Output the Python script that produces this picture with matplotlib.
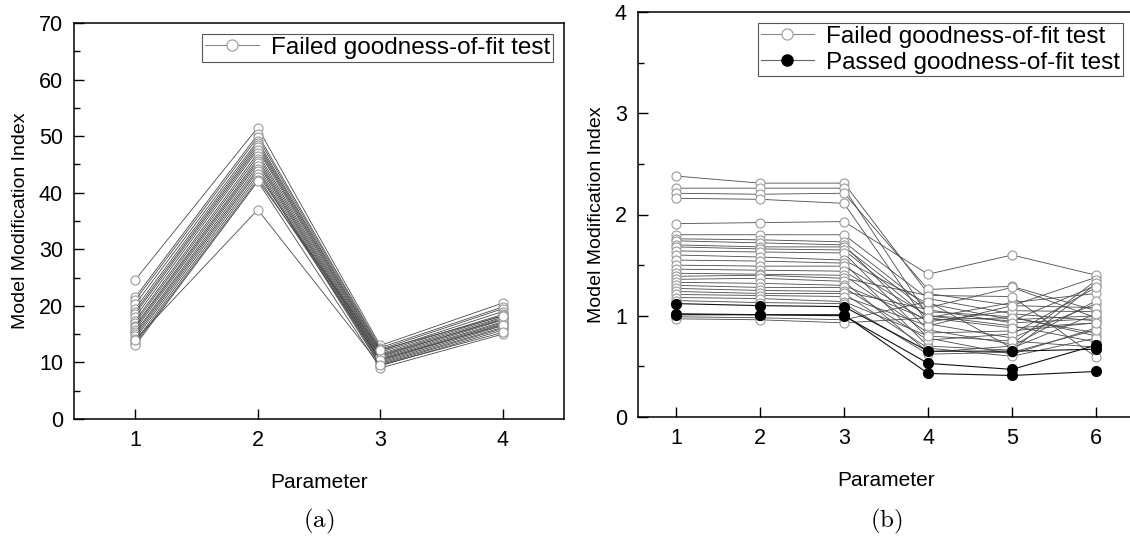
import matplotlib
matplotlib.use('Agg')
import matplotlib.pyplot as plt
from matplotlib.lines import Line2D
from matplotlib.ticker import MultipleLocator

plt.rcParams['font.family'] = ['Liberation Sans', 'DejaVu Sans']
plt.rcParams['mathtext.fontset'] = 'cm'

# (a) failed goodness-of-fit, parameters 1..4
params_a = [1, 2, 3, 4]
a_p1 = [24.6, 21.5, 21.0, 20.3, 19.5, 19.0, 18.6, 18.0, 17.4, 17.0, 16.5,
        16.2, 15.8, 15.3, 15.0, 14.6, 14.2, 13.7, 13.3, 13.0, 14.0]
a_p2 = [51.5, 50.3, 49.8, 49.2, 48.8, 48.4, 48.0, 47.6, 47.0, 46.5, 46.0,
        45.6, 45.2, 44.7, 44.2, 43.8, 43.3, 42.8, 42.3, 42.0, 37.0]
a_p3 = [13.0, 12.6, 12.3, 12.0, 11.8, 11.5, 11.3, 11.0, 10.8, 10.6, 10.4,
        10.2, 10.0, 9.8, 9.6, 9.4, 11.2, 10.5, 12.2, 9.0, 9.5]
a_p4 = [20.5, 19.8, 19.5, 19.0, 18.5, 18.3, 18.0, 17.8, 17.5, 17.2, 17.0,
        16.8, 16.5, 16.2, 16.0, 15.7, 17.6, 16.6, 18.2, 15.0, 15.3]

# (b) parameters 1..6
params_b = [1, 2, 3, 4, 5, 6]
failed_b = [
    [2.38, 2.31, 2.31, 1.22, 1.10, 1.38],
    [2.26, 2.26, 2.26, 1.00, 0.95, 1.30],
    [2.21, 2.20, 2.21, 1.26, 1.29, 1.05],
    [2.16, 2.15, 2.11, 0.92, 0.78, 1.12],
    [1.91, 1.92, 1.93, 1.41, 1.60, 1.40],
    [1.80, 1.80, 1.80, 1.17, 1.02, 0.95],
    [1.76, 1.75, 1.73, 1.08, 1.28, 0.98],
    [1.74, 1.72, 1.70, 0.86, 0.72, 1.35],
    [1.70, 1.68, 1.68, 1.04, 0.99, 0.80],
    [1.68, 1.66, 1.65, 0.98, 1.13, 1.22],
    [1.64, 1.63, 1.62, 0.78, 0.62, 0.88],
    [1.60, 1.58, 1.55, 1.12, 0.96, 1.00],
    [1.55, 1.54, 1.52, 0.70, 0.66, 1.32],
    [1.50, 1.49, 1.49, 1.00, 0.90, 0.74],
    [1.46, 1.45, 1.44, 0.94, 1.05, 1.04],
    [1.42, 1.41, 1.40, 0.83, 0.85, 0.93],
    [1.39, 1.40, 1.37, 1.20, 1.19, 0.59],
    [1.36, 1.37, 1.34, 0.64, 0.70, 1.15],
    [1.33, 1.32, 1.30, 0.96, 0.98, 0.83],
    [1.30, 1.28, 1.28, 0.76, 0.82, 1.28],
    [1.27, 1.25, 1.24, 1.06, 0.93, 0.97],
    [1.24, 1.22, 1.22, 0.68, 0.60, 0.78],
    [1.21, 1.20, 1.19, 0.90, 1.10, 1.08],
    [1.18, 1.17, 1.14, 0.80, 0.75, 0.69],
    [1.15, 1.13, 1.12, 0.62, 0.64, 0.86],
    [0.99, 0.98, 0.96, 1.14, 0.68, 1.02],
    [0.97, 0.96, 0.93, 0.98, 0.88, 0.93],
]
passed_b = [
    [1.12, 1.10, 1.09, 0.65, 0.65, 0.67],
    [1.01, 1.01, 1.00, 0.53, 0.47, 0.71],
    [1.02, 1.01, 1.01, 0.43, 0.41, 0.45],
]

line_c = '#4a4a4a'
edge_c = '#9a9a9a'

fig = plt.figure(figsize=(11.3, 5.39), dpi=100)
ax1 = fig.add_axes([74/1130, 120/539, 490/1130, 396/539])
ax2 = fig.add_axes([638/1130, 122/539, 496/1130, 405/539])

for i in range(len(a_p1)):
    ax1.plot(params_a, [a_p1[i], a_p2[i], a_p3[i], a_p4[i]], color=line_c, lw=0.6,
             marker='o', ms=6.5, mfc='white', mec=edge_c, mew=0.8)

for row in failed_b:
    ax2.plot(params_b, row, color=line_c, lw=0.6,
             marker='o', ms=6.5, mfc='white', mec=edge_c, mew=0.8)
for row in passed_b:
    ax2.plot(params_b, row, color='#111111', lw=0.8,
             marker='o', ms=7, mfc='black', mec='black', zorder=3)

ax1.set_xlim(0.5, 4.5)
ax1.set_ylim(0, 70)
ax1.set_xticks(params_a)
ax1.yaxis.set_major_locator(MultipleLocator(10))
ax1.yaxis.set_minor_locator(MultipleLocator(5))

ax2.set_xlim(0.55, 6.45)
ax2.set_ylim(0, 4)
ax2.set_xticks(params_b)
ax2.set_yticks([0, 1, 2, 3, 4])
ax2.yaxis.set_minor_locator(MultipleLocator(0.5))

for ax in (ax1, ax2):
    ax.tick_params(direction='in', length=7, width=1, labelsize=15.5, pad=8)
    ax.tick_params(which='minor', direction='in', length=4, width=1)
    ax.tick_params(axis='x', which='minor', length=0)
    ax.tick_params(top=False, right=False, which='both')
    for s in ax.spines.values():
        s.set_linewidth(1.1)
    ax.set_xlabel('Parameter', fontsize=15, labelpad=16)
    ax.set_ylabel('Model Modification Index', fontsize=14, labelpad=7)

h_fail = Line2D([], [], color='#888888', lw=0.8, marker='o', ms=8,
                mfc='white', mec=edge_c, mew=0.8)
h_pass = Line2D([], [], color='#666666', lw=0.8, marker='o', ms=8,
                mfc='black', mec='black')
for ax, hs, ls in ((ax1, [h_fail], ['Failed goodness-of-fit test']),
                   (ax2, [h_fail, h_pass], ['Failed goodness-of-fit test',
                                            'Passed goodness-of-fit test'])):
    leg = ax.legend(hs, ls, loc='upper right', fontsize=17.5, fancybox=False,
                    framealpha=1, edgecolor='#555555', handlelength=2.2,
                    borderpad=0.12, handletextpad=0.5, labelspacing=0.15,
                    borderaxespad=0.45)
    leg.get_frame().set_linewidth(0.8)

fig.text(319/1130, 1 - 521/539, r'$\mathrm{(a)}$', fontsize=18, ha='center', va='center')
fig.text(886/1130, 1 - 521/539, r'$\mathrm{(b)}$', fontsize=18, ha='center', va='center')

fig.savefig('out.png', dpi=100)
